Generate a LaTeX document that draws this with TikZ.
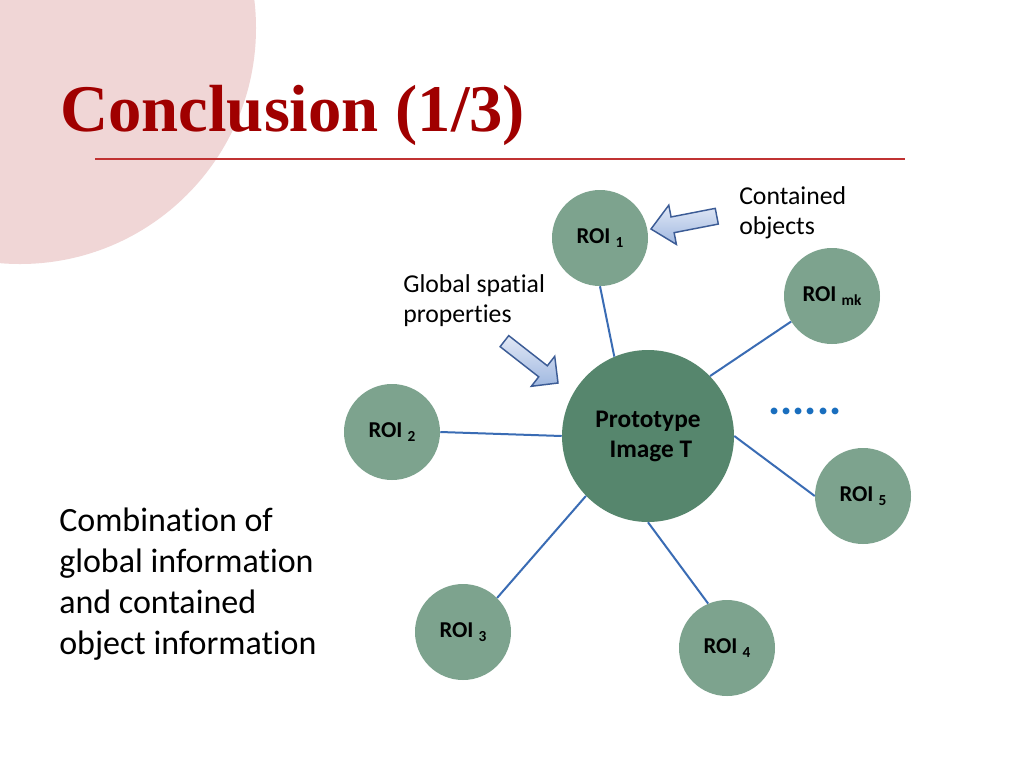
\documentclass[tikz,border=0pt]{standalone}
\usepackage{fontspec}
\setmainfont{Carlito}[Ligatures={NoCommon}]
\newfontfamily\titlefont{Liberation Serif}
\usepackage{xcolor}
\definecolor{pinkbg}{RGB}{240,214,214}
\definecolor{titlered}{RGB}{160,0,0}
\definecolor{rulered}{RGB}{192,50,50}
\definecolor{protogreen}{RGB}{86,134,109}
\definecolor{roigreen}{RGB}{125,163,142}
\definecolor{linkblue}{RGB}{58,108,180}
\definecolor{dotblue}{RGB}{25,110,190}
\definecolor{arrowedge}{RGB}{60,92,150}
\definecolor{arrowlight}{RGB}{225,232,246}
\definecolor{arrowdark}{RGB}{160,184,224}
\newcommand{\roi}[1]{ROI~\raisebox{-3pt}{\fontsize{11.5}{13}\selectfont #1}}

\begin{document}
\begin{tikzpicture}[x=0.75pt,y=0.75pt,yscale=-1,xscale=1,
    roi/.style={circle, fill=roigreen, minimum size=72pt, inner sep=0pt, font=\fontsize{17}{19}\selectfont\bfseries},
    proto/.style={circle, fill=protogreen, minimum size=129pt, inner sep=0pt, align=center, font=\fontsize{19}{22.5}\selectfont\bfseries},
    link/.style={draw=linkblue, line width=1.5pt},
    blockarrow/.style={draw=arrowedge, line width=1.1pt, top color=arrowlight, bottom color=arrowdark, line join=miter},
    note/.style={anchor=west, align=left, inner sep=0pt, font=\fontsize{19.3}{22.5}\selectfont}]
    %set diagram to the slide size
    \useasboundingbox (0,0) rectangle (1024,768);
    \fill[white] (0,0) rectangle (1024,768);
    
    %Shape: Circle (background)
    \fill[pinkbg] (20,28) circle (236);
    
    % Title
    \node (title) [anchor=base west, inner sep=0pt, text=titlered, font=\titlefont\fontsize{50}{60}\selectfont\bfseries] at (60,131) {Conclusion (1/3)};
    %Straight Lines
    \draw[rulered, line width=2pt] (95,159) -- (905,159);
    
    %Shape: Circle (nodes)
    \node (proto) [proto] at (648,436) {Prototype\\\ Image T};
    \node (roi1) [roi] at (600,238) {\roi{1}};
    \node (roimk) [roi] at (832,296) {\roi{mk}};
    \node (roi2) [roi] at (392,432) {\roi{2}};
    \node (roi5) [roi] at (863,496) {\roi{5}};
    \node (roi3) [roi] at (463,632) {\roi{3}};
    \node (roi4) [roi] at (727,648) {\roi{4}};
    
    %Straight Lines
    \draw[link] (roi1.south) -- (proto.113);
    \draw[link] (roimk.212) -- (proto.44);
    \draw[link] (roi2.east) -- (proto.west);
    \draw[link] (roi5.180) -- (proto.east);
    \draw[link] (roi3.45) -- (proto.224);
    \draw[link] (roi4.113) -- (proto.south);
    
    % Text Node
    \node (dots) [anchor=base, inner sep=0pt, text=dotblue, font=\fontsize{34}{40}\selectfont\bfseries] at (805,414) {......};
    
    %Shape: Right Arrow
    \draw[blockarrow, shift={(651,229)}, rotate=-11] (0,0) -- (22,-20) -- (22,-8) -- (67,-8) -- (67,8) -- (22,8) -- (22,20) -- cycle;
    %Shape: Right Arrow
    \draw[blockarrow, shift={(558,383)}, rotate=-142] (0,0) -- (19,-19) -- (19,-7) -- (68,-7) -- (68,7) -- (19,7) -- (19,19) -- cycle;
    
    % Text Node
    \node (contained) [note] at (739,213) {Contained\\objects};
    % Text Node
    \node (spatial) [note] at (403,301) {Global spatial\\properties};
    % Text Node
    \node (summary) [anchor=west, align=left, inner sep=0pt, font=\fontsize{25.5}{30.75}\selectfont] at (59,584) {Combination of\\global information\\and contained\\object information};
    
\end{tikzpicture}
\end{document}
